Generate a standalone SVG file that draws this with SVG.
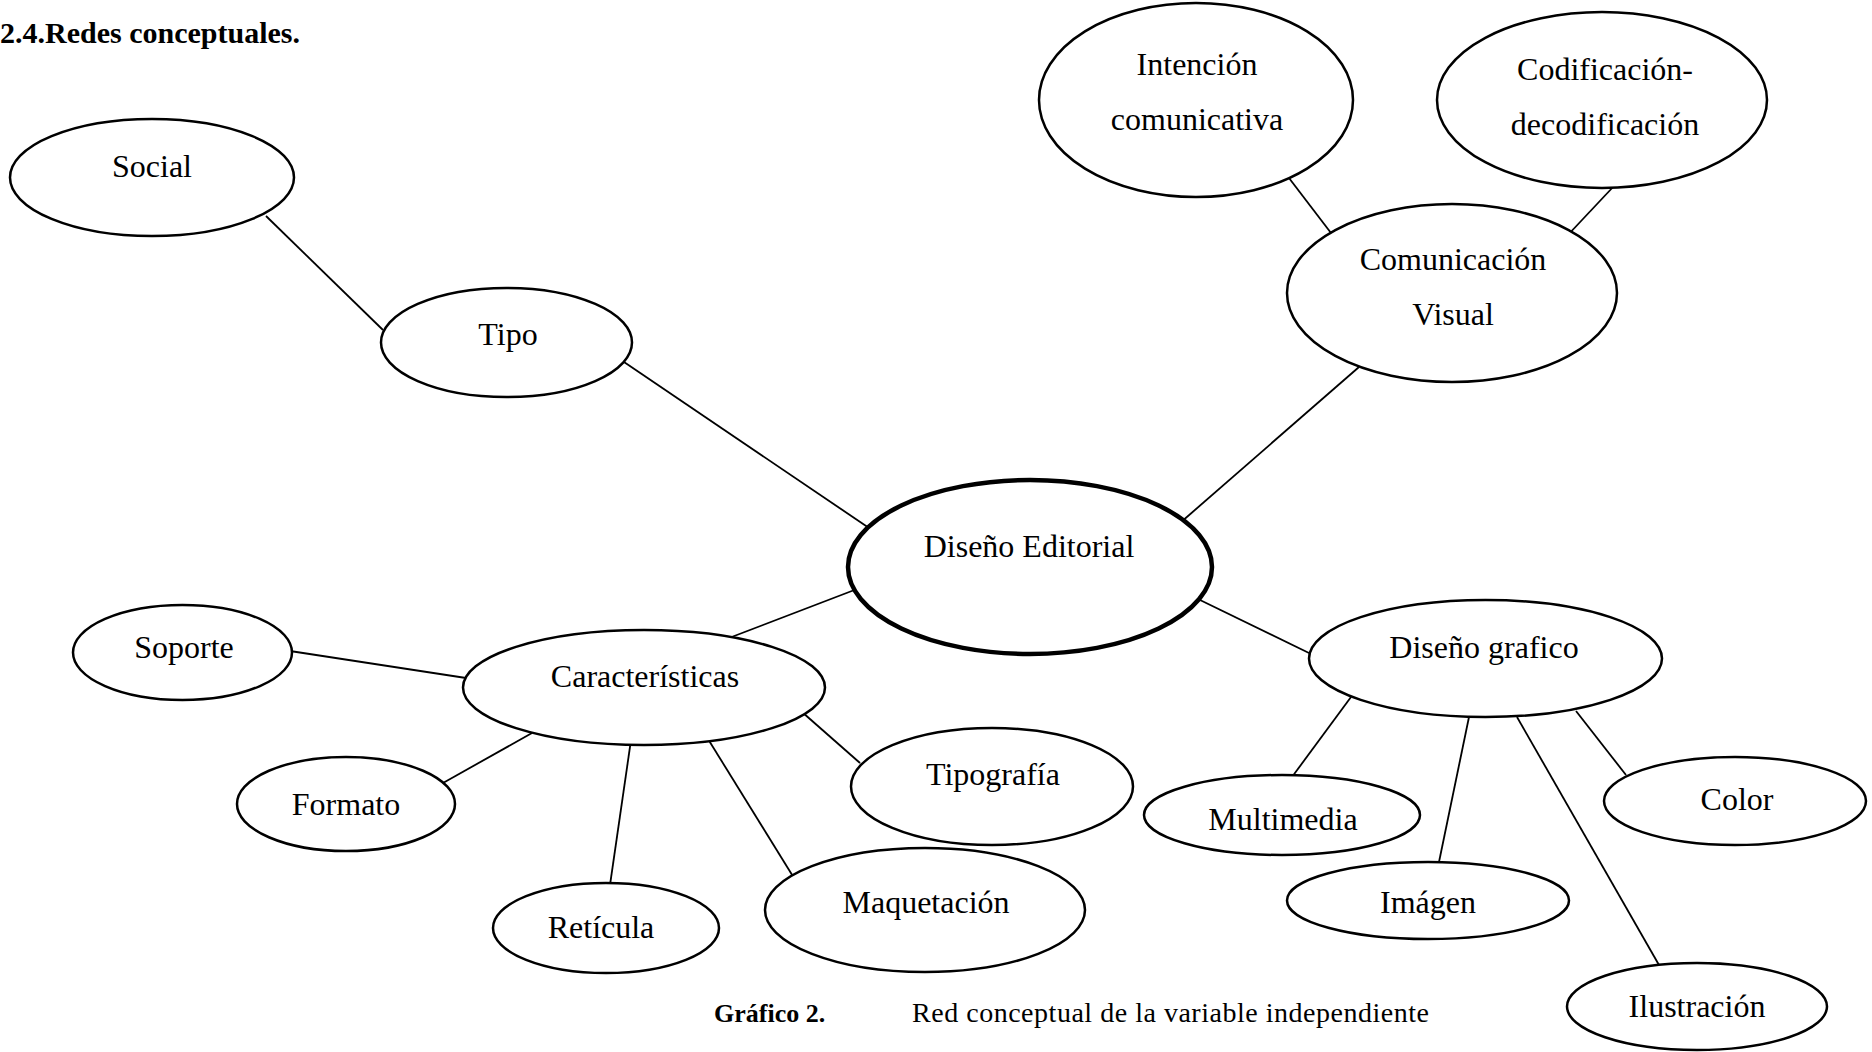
<svg xmlns="http://www.w3.org/2000/svg" width="1872" height="1052" viewBox="0 0 1872 1052">
  <style>
    .node { fill: #ffffff; stroke: #000000; stroke-width: 2.5; }
    .main { fill: #ffffff; stroke: #000000; stroke-width: 4.5; }
    .lbl { font-family: "Liberation Serif", "Times New Roman", serif; font-size: 32px; fill: #000000; text-anchor: middle; }
    .conn line { stroke: #000000; stroke-width: 1.8; }
    .title { font-family: "Liberation Serif", "Times New Roman", serif; font-size: 30px; font-weight: bold; fill: #000000; }
    .cap { font-family: "Liberation Serif", "Times New Roman", serif; font-size: 28px; fill: #000000; }
    .capb { font-family: "Liberation Serif", "Times New Roman", serif; font-size: 26px; font-weight: bold; fill: #000000; }
  </style>
  <rect width="1872" height="1052" fill="#ffffff"/>

  <text class="title" x="0" y="43">2.4.Redes conceptuales.</text>

  <!-- connectors -->
  <g id="connectors" class="conn">
    <line x1="266" y1="216" x2="383" y2="330"/>
    <line x1="624" y1="362" x2="872" y2="530"/>
    <line x1="1289" y1="178" x2="1331" y2="233"/>
    <line x1="1614" y1="186" x2="1566" y2="237"/>
    <line x1="1359" y1="367" x2="1180" y2="523"/>
    <line x1="729" y1="638" x2="857" y2="589"/>
    <line x1="290" y1="651" x2="466" y2="678"/>
    <line x1="443" y1="783" x2="532" y2="733"/>
    <line x1="631" y1="740" x2="610" y2="885"/>
    <line x1="708" y1="739" x2="794" y2="878"/>
    <line x1="802" y1="712" x2="860" y2="763"/>
    <line x1="1200" y1="600" x2="1309" y2="653"/>
    <line x1="1351" y1="697" x2="1292" y2="777"/>
    <line x1="1469" y1="717" x2="1439" y2="862"/>
    <line x1="1517" y1="717" x2="1659" y2="965"/>
    <line x1="1576" y1="711" x2="1626" y2="775"/>
  </g>

  <g id="social">
    <ellipse class="node" cx="152" cy="177.5" rx="142" ry="58.5"/>
    <text class="lbl" x="152" y="177">Social</text>
  </g>
  <g id="tipo">
    <ellipse class="node" cx="506.5" cy="342.5" rx="125.5" ry="54.5"/>
    <text class="lbl" x="508" y="345">Tipo</text>
  </g>
  <g id="intencion">
    <ellipse class="node" cx="1196" cy="100" rx="157" ry="97"/>
    <text class="lbl" x="1197" y="75">Intención</text>
    <text class="lbl" x="1197" y="130">comunicativa</text>
  </g>
  <g id="codificacion">
    <ellipse class="node" cx="1602" cy="100" rx="165" ry="88"/>
    <text class="lbl" x="1605" y="80">Codificación-</text>
    <text class="lbl" x="1605" y="135">decodificación</text>
  </g>
  <g id="comunicacion">
    <ellipse class="node" cx="1452" cy="293" rx="165" ry="89"/>
    <text class="lbl" x="1453" y="270">Comunicación</text>
    <text class="lbl" x="1453" y="325">Visual</text>
  </g>
  <g id="diseno-editorial">
    <ellipse class="main" cx="1030" cy="567" rx="182" ry="87"/>
    <text class="lbl" x="1029" y="557">Diseño Editorial</text>
  </g>
  <g id="soporte">
    <ellipse class="node" cx="182.5" cy="652.5" rx="109.5" ry="47.5"/>
    <text class="lbl" x="184" y="658">Soporte</text>
  </g>
  <g id="caracteristicas">
    <ellipse class="node" cx="644" cy="687.5" rx="181" ry="57.5"/>
    <text class="lbl" x="645" y="687">Características</text>
  </g>
  <g id="formato">
    <ellipse class="node" cx="346" cy="804" rx="109" ry="47"/>
    <text class="lbl" x="346" y="815">Formato</text>
  </g>
  <g id="reticula">
    <ellipse class="node" cx="606" cy="928" rx="113" ry="45"/>
    <text class="lbl" x="601" y="938">Retícula</text>
  </g>
  <g id="maquetacion">
    <ellipse class="node" cx="925" cy="910" rx="160" ry="62"/>
    <text class="lbl" x="926" y="913">Maquetación</text>
  </g>
  <g id="tipografia">
    <ellipse class="node" cx="992" cy="786.5" rx="141" ry="58.5"/>
    <text class="lbl" x="993" y="785">Tipografía</text>
  </g>
  <g id="diseno-grafico">
    <ellipse class="node" cx="1485.5" cy="658.5" rx="176.5" ry="58.5"/>
    <text class="lbl" x="1484" y="658">Diseño grafico</text>
  </g>
  <g id="multimedia">
    <ellipse class="node" cx="1282" cy="815" rx="138" ry="40"/>
    <text class="lbl" x="1283" y="830">Multimedia</text>
  </g>
  <g id="imagen">
    <ellipse class="node" cx="1428" cy="900.5" rx="141" ry="38.5"/>
    <text class="lbl" x="1428" y="913">Imágen</text>
  </g>
  <g id="color">
    <ellipse class="node" cx="1735" cy="801" rx="131" ry="44"/>
    <text class="lbl" x="1737" y="810">Color</text>
  </g>
  <g id="ilustracion">
    <ellipse class="node" cx="1697" cy="1006.5" rx="130" ry="43.5"/>
    <text class="lbl" x="1697" y="1017">Ilustración</text>
  </g>

  <text class="capb" x="714" y="1022">Gráfico 2.</text>
  <text class="cap" x="912" y="1022" textLength="517" lengthAdjust="spacing">Red conceptual de la variable independiente</text>
</svg>
